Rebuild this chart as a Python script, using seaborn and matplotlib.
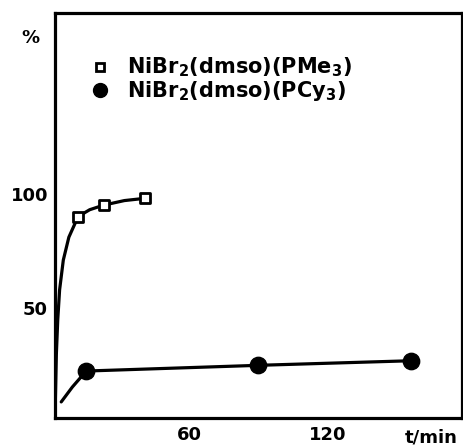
import numpy as np
import pandas as pd
from matplotlib import pyplot as plt
from matplotlib.lines import Line2D
import seaborn as sns

# measured points
t_pme3 = [12, 23, 41]
y_pme3 = [90, 95, 98]
t_pcy3 = [15.5, 90, 156]
y_pcy3 = [22.5, 25, 27]

# hand-drawn fit curves
t_pme3_fit = [2, 2.6, 3.2, 4, 5.6, 8, 12, 17, 23, 32, 41]
y_pme3_fit = [2, 30, 45, 58, 71, 81, 90, 93, 95, 97, 98]
t_pcy3_fit = [4.7, 9.5, 15.5, 90, 156]
y_pcy3_fit = [9, 15.5, 22.5, 25, 27]

lbl_pme3 = r"NiBr$_\mathbf{2}$(dmso)(PMe$_\mathbf{3}$)"
lbl_pcy3 = r"NiBr$_\mathbf{2}$(dmso)(PCy$_\mathbf{3}$)"

sns.set_style("white")
plt.rcParams["font.family"] = ["DejaVu Sans"]
plt.rcParams["font.weight"] = "bold"
plt.rcParams["mathtext.default"] = "bf"
plt.rcParams["text.color"] = "black"
plt.rcParams["xtick.color"] = "black"
plt.rcParams["ytick.color"] = "black"

fig = plt.figure(figsize=(4.64, 4.47), dpi=100)
ax = fig.add_axes([0.1185, 0.065, 0.877, 0.906])

sns.lineplot(x=t_pme3_fit, y=y_pme3_fit, color="black", lw=2.3, ax=ax, sort=False)
sns.lineplot(x=t_pcy3_fit, y=y_pcy3_fit, color="black", lw=2.3, ax=ax, sort=False)
sns.scatterplot(x=t_pme3, y=y_pme3, marker="s", s=50, facecolor="white",
                edgecolor="black", linewidth=2, ax=ax, zorder=3)
sns.scatterplot(x=t_pcy3, y=y_pcy3, marker="o", s=140, color="black",
                edgecolor="black", ax=ax, zorder=3)

ax.set_xlim(2, 178)
ax.set_ylim(2, 179)
ax.set_xticks([60, 120])
ax.set_yticks([50, 100])
ax.tick_params(direction="in", length=8, width=2, labelsize=13, pad=6)
ax.tick_params(axis="y", length=12, pad=5)
for lab in ax.get_xticklabels() + ax.get_yticklabels():
    lab.set_fontweight("bold")
for sp in ax.spines.values():
    sp.set_linewidth(2.3)
    sp.set_color("black")

fig.text(0.065, 0.915, "%", fontsize=13, fontweight="bold", ha="center", va="center")
fig.text(0.93, 0.022, "t/min", fontsize=13, fontweight="bold", ha="center", va="center")

handles = [
    Line2D([], [], ls="", marker="s", ms=6, mfc="white", mec="black", mew=2),
    Line2D([], [], ls="", marker="o", ms=10, mfc="black", mec="black"),
]
ax.legend(handles, [lbl_pme3, lbl_pcy3], loc="upper left",
          bbox_to_anchor=(0.06, 0.925), frameon=False, fontsize=15,
          handletextpad=0.9, labelspacing=0.0, handlelength=0.8,
          borderaxespad=0.2)

plt.savefig("out.png", dpi=100)
